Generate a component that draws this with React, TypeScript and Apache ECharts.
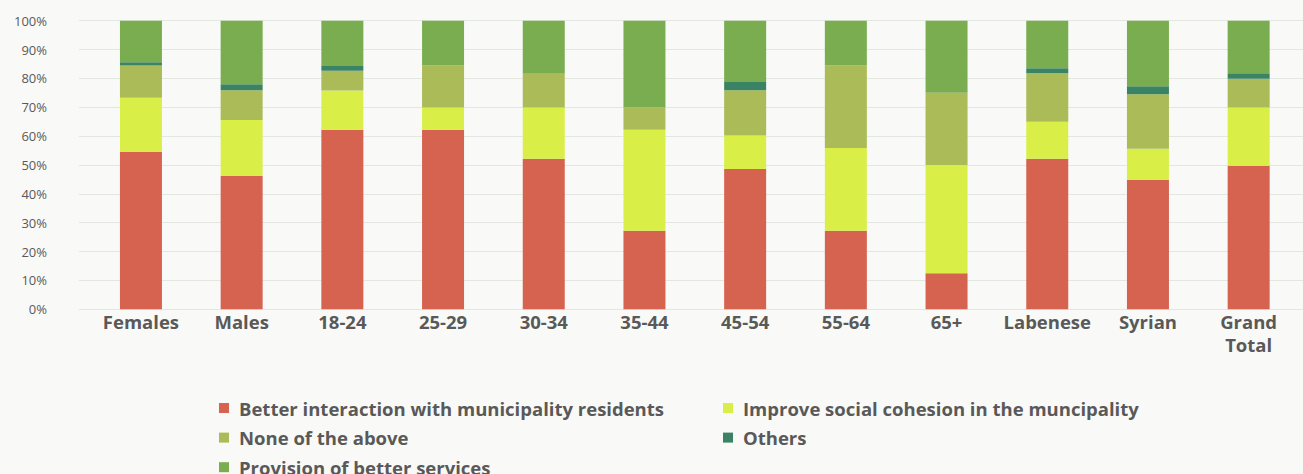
import React, { useEffect, useRef } from "react";
import * as echarts from "echarts";

// Survey breakdown by group (percent of respondents)
const categories = [
  "Females", "Males", "18-24", "25-29", "30-34", "35-44",
  "45-54", "55-64", "65+", "Labenese", "Syrian", "Grand\nTotal",
];

const betterInteraction = [54.5, 46.2, 62.2, 62.2, 52.2, 27.2, 48.6, 27.2, 12.5, 52.2, 44.8, 49.7];
const improveCohesion = [18.8, 19.4, 13.6, 7.7, 17.7, 35.0, 11.6, 28.7, 37.5, 12.8, 10.8, 20.2];
const noneOfTheAbove = [11.2, 10.3, 6.9, 14.6, 11.7, 7.7, 15.7, 28.6, 25.0, 16.8, 18.9, 10.0];
const others = [1.1, 2.1, 1.6, 0, 0, 0, 2.9, 0, 0, 1.7, 2.8, 1.9];
const betterServices = [14.4, 22.0, 15.7, 15.5, 18.4, 30.1, 21.2, 15.5, 25.0, 16.5, 22.7, 18.2];

const seriesDefs = [
  { name: "Better interaction with municipality residents", data: betterInteraction, color: "#d6634f" },
  { name: "Improve social cohesion in the muncipality", data: improveCohesion, color: "#d9ef48" },
  { name: "None of the above", data: noneOfTheAbove, color: "#aabb57" },
  { name: "Others", data: others, color: "#3a8465" },
  { name: "Provision of better services", data: betterServices, color: "#7aad50" },
];

const FONT = "'Open Sans', 'Noto Sans', sans-serif";
const TEXT = "#595959";
const GRIDLINE = "#e2e8e0";

export default function App() {
  const ref = useRef<HTMLDivElement>(null);

  useEffect(() => {
    if (!ref.current) return;
    const chart = echarts.init(ref.current, undefined, { renderer: "svg" });

    const legendCommon = {
      orient: "vertical" as const,
      icon: "rect",
      itemWidth: 10,
      itemHeight: 10,
      itemGap: 9.6,
      padding: 0,
      height: 200,
      selectedMode: false,
      textStyle: {
        fontFamily: FONT,
        fontSize: 18.5,
        fontWeight: "bold" as const,
        color: TEXT,
        lineHeight: 20,
        padding: [0, 0, 0, 5],
      },
    };

    chart.setOption({
      animation: false,
      backgroundColor: "#f9faf7",
      textStyle: { fontFamily: FONT },
      grid: [
        // wide grid carrying the percentage scale and its grid lines
        { left: 79, right: 0, top: 20.7, bottom: 164.7 },
        // grid holding the stacked bars
        { left: 90.6, right: 4, top: 20.7, bottom: 164.7 },
      ],
      xAxis: [
        { type: "value", gridIndex: 0, show: false, min: 0, max: 1 },
        {
          type: "category",
          gridIndex: 1,
          data: categories,
          axisLine: { show: true, lineStyle: { color: GRIDLINE, width: 1 } },
          axisTick: { show: false },
          axisLabel: {
            color: TEXT,
            fontFamily: FONT,
            fontSize: 18.5,
            fontWeight: "bold",
            lineHeight: 23,
            margin: 1,
            interval: 0,
          },
        },
      ],
      yAxis: [
        {
          type: "value",
          gridIndex: 0,
          min: 0,
          max: 100,
          interval: 10,
          axisLine: { show: false },
          axisTick: { show: false },
          splitLine: { show: true, lineStyle: { color: GRIDLINE, width: 1 } },
          axisLabel: {
            formatter: "{value}%",
            color: TEXT,
            fontFamily: FONT,
            fontSize: 13,
            margin: 32,
          },
        },
        {
          type: "value",
          gridIndex: 1,
          min: 0,
          max: 100,
          interval: 10,
          show: false,
          splitLine: { show: false },
        },
      ],
      legend: [
        {
          ...legendCommon,
          left: 219,
          top: 398,
          data: [seriesDefs[0].name, seriesDefs[2].name, seriesDefs[4].name],
        },
        {
          ...legendCommon,
          left: 723,
          top: 398,
          data: [seriesDefs[1].name, seriesDefs[3].name],
        },
      ],
      series: seriesDefs.map((s) => ({
        type: "bar",
        name: s.name,
        data: s.data,
        stack: "total",
        xAxisIndex: 1,
        yAxisIndex: 1,
        barWidth: 42,
        itemStyle: { color: s.color },
      })),
    });

    return () => chart.dispose();
  }, []);

  return (
    <div
      ref={ref}
      style={{ position: "fixed", left: 0, top: 0, width: 1303, height: 474, background: "#f9faf7" }}
    />
  );
}
